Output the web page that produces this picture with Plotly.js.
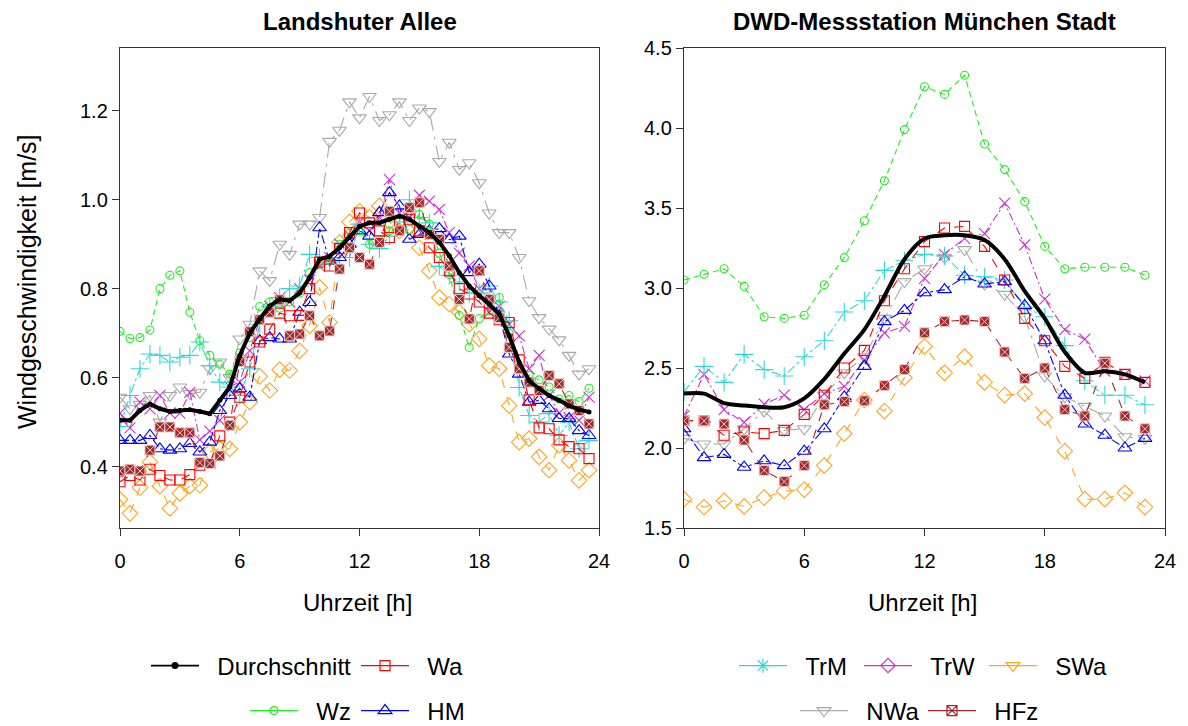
<!DOCTYPE html>
<html><head><meta charset="utf-8">
<script src="https://cdn.plot.ly/plotly-3.0.1.min.js"></script>
<style>html,body{margin:0;padding:0;background:#fff}#chart{width:1188px;height:726px}</style>
</head><body><div id="chart"></div>
<script>
// ---------- data ----------
const hoursL = [0,0.5,1,1.5,2,2.5,3,3.5,4,4.5,5,5.5,6,6.5,7,7.5,8,8.5,9,9.5,10,10.5,11,11.5,12,12.5,13,13.5,14,14.5,15,15.5,16,16.5,17,17.5,18,18.5,19,19.5,20,20.5,21,21.5,22,22.5,23,23.5];
const hoursR = [0,1,2,3,4,5,6,7,8,9,10,11,12,13,14,15,16,17,18,19,20,21,22,23];

const avgL = [0.504,0.504,0.526,0.541,0.53,0.524,0.526,0.528,0.524,0.519,0.549,0.579,0.65,0.70,0.732,0.761,0.776,0.773,0.79,0.825,0.866,0.873,0.892,0.915,0.94,0.948,0.948,0.956,0.963,0.956,0.94,0.926,0.904,0.874,0.836,0.806,0.784,0.765,0.743,0.694,0.635,0.593,0.575,0.56,0.549,0.537,0.528,0.523];
const WaL  = [0.366,0.38,0.37,0.394,0.38,0.37,0.37,0.382,0.403,0.407,0.469,0.50,0.556,0.635,0.68,0.709,0.745,0.739,0.74,0.80,0.86,0.851,0.89,0.926,0.97,0.948,0.93,0.915,0.952,0.956,0.93,0.892,0.87,0.84,0.80,0.788,0.77,0.745,0.73,0.724,0.64,0.55,0.487,0.485,0.46,0.445,0.44,0.418];
const WzL  = [0.704,0.688,0.69,0.707,0.80,0.83,0.84,0.747,0.683,0.65,0.63,0.608,0.655,0.69,0.76,0.77,0.756,0.77,0.79,0.836,0.855,0.862,0.90,0.924,0.93,0.90,0.91,0.93,0.93,0.933,0.967,0.945,0.88,0.832,0.74,0.668,0.733,0.75,0.78,0.70,0.62,0.605,0.595,0.579,0.552,0.56,0.546,0.576];
const HML  = [0.459,0.459,0.459,0.47,0.44,0.437,0.44,0.452,0.433,0.455,0.526,0.56,0.575,0.556,0.683,0.69,0.687,0.687,0.747,0.769,0.937,0.862,0.87,0.90,0.93,0.918,0.971,1.016,0.986,0.911,0.922,0.93,0.935,0.91,0.918,0.836,0.855,0.806,0.739,0.653,0.608,0.545,0.549,0.53,0.508,0.508,0.481,0.47];
const TrML = [0.49,0.56,0.62,0.653,0.65,0.635,0.646,0.65,0.68,0.627,0.59,0.579,0.56,0.62,0.72,0.76,0.78,0.80,0.806,0.877,0.87,0.86,0.87,0.87,0.945,0.90,0.89,0.918,0.95,1.0,0.96,0.948,0.85,0.83,0.815,0.79,0.79,0.806,0.77,0.728,0.578,0.515,0.50,0.519,0.47,0.50,0.44,0.459];
const TrWL = [0.52,0.487,0.545,0.53,0.56,0.52,0.52,0.567,0.46,0.48,0.504,0.58,0.59,0.66,0.73,0.76,0.78,0.77,0.80,0.82,0.85,0.87,0.90,0.92,0.95,0.93,0.96,1.045,0.97,0.96,1.01,0.997,0.978,0.926,0.88,0.851,0.80,0.747,0.76,0.72,0.694,0.62,0.65,0.56,0.52,0.51,0.504,0.556];
const SWaL = [0.326,0.295,0.353,0.41,0.356,0.306,0.34,0.356,0.358,0.433,0.44,0.44,0.50,0.545,0.603,0.571,0.618,0.616,0.66,0.717,0.803,0.724,0.904,0.95,0.974,0.96,0.986,0.95,0.93,0.94,0.892,0.84,0.78,0.765,0.747,0.72,0.687,0.627,0.62,0.537,0.455,0.463,0.422,0.392,0.448,0.414,0.369,0.392];
const NWaL = [0.556,0.53,0.54,0.56,0.50,0.56,0.579,0.564,0.567,0.62,0.635,0.60,0.687,0.72,0.84,0.818,0.90,0.877,0.945,0.945,0.96,1.131,1.156,1.22,1.184,1.232,1.178,1.191,1.22,1.178,1.206,1.198,1.086,1.129,1.068,1.083,1.038,0.97,0.926,0.926,0.87,0.773,0.735,0.709,0.685,0.65,0.608,0.62];
const HFzL = [0.39,0.394,0.39,0.437,0.489,0.489,0.476,0.476,0.409,0.407,0.424,0.493,0.636,0.703,0.73,0.747,0.775,0.694,0.698,0.739,0.694,0.705,0.844,0.892,0.87,0.855,0.904,0.974,0.93,0.982,0.993,0.922,0.911,0.851,0.776,0.732,0.84,0.776,0.735,0.668,0.62,0.59,0.571,0.605,0.586,0.541,0.526,0.496];

const avgR = [2.34,2.34,2.28,2.265,2.255,2.255,2.31,2.43,2.59,2.74,2.95,3.18,3.31,3.33,3.33,3.30,3.18,2.98,2.81,2.60,2.47,2.48,2.46,2.41];
const WaR  = [2.17,2.17,2.08,2.10,2.09,2.11,2.21,2.33,2.50,2.61,2.92,3.12,3.29,3.375,3.385,3.26,3.05,2.81,2.67,2.51,2.435,2.535,2.46,2.41];
const WzR  = [3.05,3.086,3.12,3.01,2.82,2.81,2.83,3.02,3.19,3.42,3.67,3.99,4.258,4.21,4.33,3.90,3.74,3.54,3.26,3.12,3.13,3.13,3.13,3.08];
const HMR  = [2.12,1.94,1.96,1.88,1.92,1.89,1.98,2.12,2.32,2.51,2.79,2.86,2.97,2.99,3.07,3.025,3.04,2.89,2.67,2.33,2.15,2.08,2.00,2.06];
const TrMR = [2.35,2.51,2.41,2.585,2.49,2.45,2.57,2.67,2.85,2.92,3.11,3.17,3.21,3.20,3.08,3.07,3.05,2.88,2.82,2.64,2.42,2.33,2.33,2.27];
const TrWR = [2.20,2.46,2.24,2.16,2.275,2.33,2.24,2.34,2.385,2.55,2.72,2.76,3.06,3.21,3.31,3.34,3.53,3.27,2.93,2.74,2.68,2.48,2.46,2.42];
const SWaR = [1.68,1.63,1.67,1.635,1.69,1.73,1.74,1.89,2.09,2.30,2.23,2.44,2.635,2.47,2.57,2.41,2.33,2.34,2.19,1.98,1.68,1.68,1.72,1.63];
const NWaR = [2.06,2.025,2.025,2.12,2.23,2.11,2.12,2.33,2.47,2.57,2.81,3.04,3.12,3.19,3.24,3.025,2.96,2.82,2.45,2.32,2.26,2.20,2.07,2.06];
const HFzR = [2.17,2.17,2.15,2.05,1.86,1.79,1.89,2.27,2.29,2.295,2.39,2.49,2.72,2.79,2.80,2.79,2.60,2.435,2.50,2.24,2.20,2.53,2.20,2.12];

const xTicks = [0,6,12,18,24];
const yTicksL = [0.4,0.6,0.8,1.0,1.2];
const yTicksR = [1.5,2.0,2.5,3.0,3.5,4.0,4.5];
const names = ['Durchschnitt','Wa','Wz','HM','TrM','TrW','SWa','NWa','HFz'];

// ---------- styles ----------
const st = {
  Wa:  {color:'#FF0000', symbol:'square-open',        size:10, dash:'dash'},
  Wz:  {color:'#22EE22', symbol:'circle-open',        size:8,  dash:'6px,4px'},
  HM:  {color:'#0000FF', symbol:'triangle-up-open',   size:12, dash:'dashdot'},
  TrM: {color:'#33D6D6', symbol:'cross-thin-open',    size:13, dash:'dashdot'},
  TrW: {color:'#CC33CC', symbol:'x-thin-open',        size:11, dash:'8px,3px,2px,3px'},
  SWa: {color:'#FFA520', symbol:'diamond-open',       size:12, dash:'dash'},
  NWa: {color:'#A9A9A9', symbol:'triangle-down-open', size:12, dash:'longdashdot'},
  HFz: {color:'#A52A2A', symbol:'square-x',           size:10, dash:'dash'}
};
const legendSym = {TrM:'asterisk-open', TrW:'diamond-open', SWa:'triangle-down-open', HFz:'square-x-open'};
const legendName = {Durchschnitt:'legend', Wa:'legend2', Wz:'legend3', HM:'legend4', TrM:'legend5', TrW:'legend6', SWa:'legend7', NWa:'legend8', HFz:'legend9'};
const pad = '\u00A0\u00A0';

const dataL = {Wa:WaL, Wz:WzL, HM:HML, TrM:TrML, TrW:TrWL, SWa:SWaL, NWa:NWaL, HFz:HFzL};
const dataR = {Wa:WaR, Wz:WzR, HM:HMR, TrM:TrMR, TrW:TrWR, SWa:SWaR, NWa:NWaR, HFz:HFzR};

function mk(s){
  const m = {color:s.color, symbol:s.symbol, size:s.size, line:{color:s.color, width:1.1}};
  if (s.symbol==='square-x') m.line = {color:'#E9CFCF', width:1};
  return m;
}

const traces = [];
const order = ['NWa','SWa','TrW','TrM','HM','Wz','Wa','HFz'];
order.forEach(k=>{
  const s = st[k];
  traces.push({x:hoursL, y:dataL[k], xaxis:'x', yaxis:'y', name:k, mode:'lines+markers',
    line:{color:s.color, width:1.1, dash:s.dash}, marker:mk(s), showlegend:false});
  traces.push({x:hoursR, y:dataR[k], xaxis:'x2', yaxis:'y2', name:k, mode:'lines+markers',
    line:{color:s.color, width:1.1, dash:s.dash}, marker:mk(s), showlegend:false});
});
traces.push({x:hoursL, y:avgL, xaxis:'x', yaxis:'y', name:'Durchschnitt', mode:'lines+markers',
  line:{color:'#000000', width:4}, marker:{color:'#000', size:5}, showlegend:false});
traces.push({x:hoursR, y:avgR, xaxis:'x2', yaxis:'y2', name:'Durchschnitt', mode:'lines',
  line:{color:'#000000', width:4, shape:'spline', smoothing:0.8}, showlegend:false});

// legend entries (as drawn in the reference legend)
names.forEach(k=>{
  let t;
  if (k==='Durchschnitt'){
    t = {line:{color:'#000', width:1.6}, marker:{color:'#000', symbol:'circle', size:7}};
  } else {
    const s = st[k];
    const sym = legendSym[k] || s.symbol;
    t = {line:{color:s.color, width:1.4}, marker:{color:s.color, symbol:sym, size:Math.min(s.size,12), line:{color:s.color,width:1.2}}};
  }
  traces.push(Object.assign({x:[null], y:[null], xaxis:'x', yaxis:'y', name:pad+k, mode:'lines+markers',
    showlegend:true, legend:legendName[k]}, t));
});

// ---------- layout ----------
const W=1188, H=726;
const fx = px=>px/W, fy = py=>1-py/H;
const font = {family:'Liberation Sans, Arial, sans-serif', color:'#000'};
const axBase = {showline:true, mirror:true, linecolor:'#333', linewidth:1.2, ticks:'outside', ticklen:7,
  tickcolor:'#333', showgrid:false, zeroline:false, tickfont:{size:20}, fixedrange:true};

const legPos = {
  legend:[151,666], legend2:[361,666], legend3:[250,711], legend4:[361,711],
  legend5:[739,666], legend6:[864,666], legend7:[989,666], legend8:[800,711], legend9:[928,711]
};
const ann = (text, px, py, size, extra)=>Object.assign({text:text, xref:'paper', yref:'paper', x:fx(px), y:fy(py),
  xanchor:'center', yanchor:'middle', showarrow:false, font:{size:size}}, extra||{});
const layout = {
  width:W, height:H, margin:{l:0,r:0,t:0,b:0, autoexpand:false}, paper_bgcolor:'#fff', plot_bgcolor:'#fff', font:font,
  xaxis:Object.assign({}, axBase, {domain:[fx(120),fx(599)], range:[0,24], tickvals:xTicks, anchor:'y', ticklabelstandoff:8}),
  yaxis:Object.assign({}, axBase, {domain:[fy(528),fy(48)], range:[0.262,1.341], tickvals:yTicksL, tickformat:'.1f', anchor:'x'}),
  xaxis2:Object.assign({}, axBase, {domain:[fx(684),fx(1165)], range:[0,24], tickvals:xTicks, anchor:'y2', ticklabelstandoff:8}),
  yaxis2:Object.assign({}, axBase, {domain:[fy(528),fy(48)], range:[1.5,4.5], tickvals:yTicksR, tickformat:'.1f', anchor:'x2'}),
  annotations:[
    ann('<b>Landshuter Allee</b>', 359.5, 22, 24),
    ann('<b>DWD-Messstation München Stadt</b>', 924.5, 22, 24),
    ann('Uhrzeit [h]', 357, 602, 24),
    ann('Uhrzeit [h]', 922, 602, 24),
    ann('Windgeschwindigkeit [m/s]', 27, 282, 25, {textangle:-90})
  ]
};
Object.keys(legPos).forEach(k=>{
  layout[k] = {x:fx(legPos[k][0]-5), y:fy(legPos[k][1]), xanchor:'left', yanchor:'middle', orientation:'h',
    bgcolor:'rgba(0,0,0,0)', font:{size:24}, itemwidth:48, itemclick:false, itemdoubleclick:false};
});

Plotly.newPlot('chart', traces, layout, {staticPlot:true, displayModeBar:false});
</script>
</body></html>
